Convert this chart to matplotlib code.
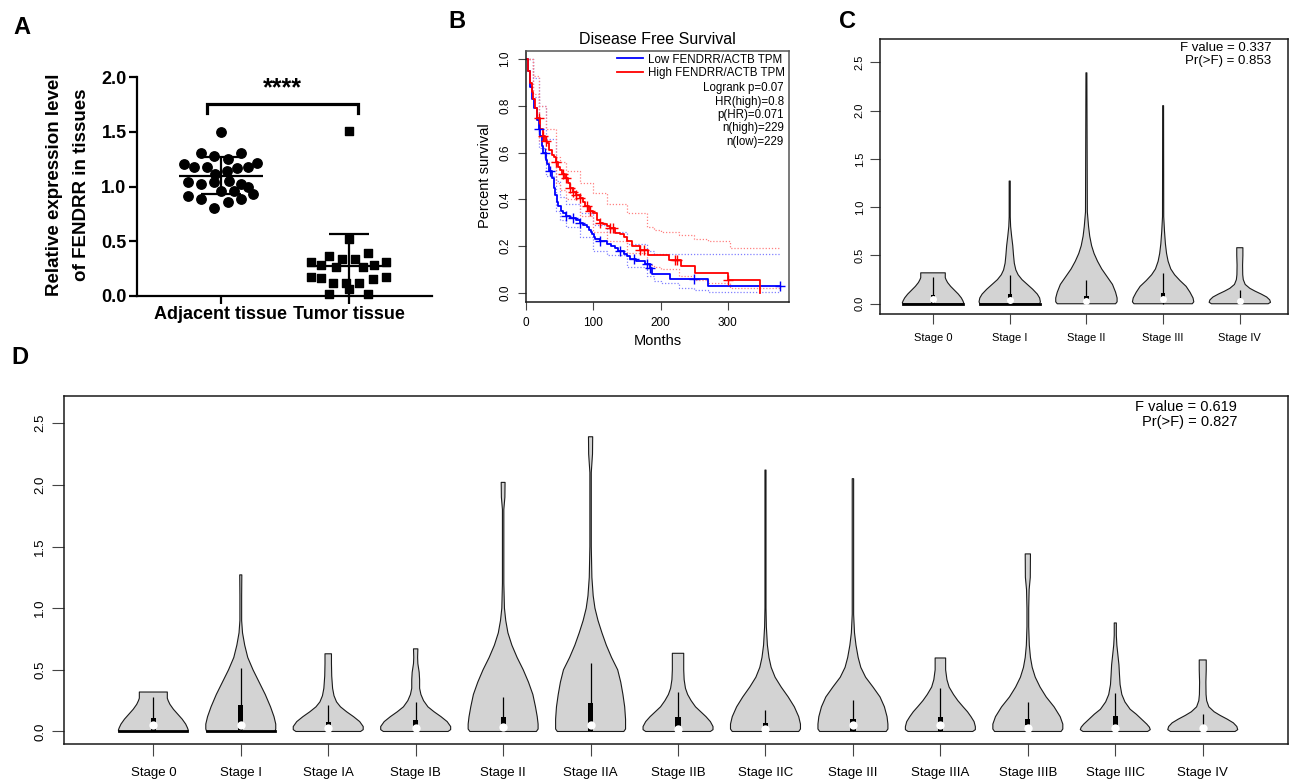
import numpy as np
import matplotlib
matplotlib.use("Agg")
import matplotlib.pyplot as plt
from matplotlib.patches import Rectangle
from matplotlib.lines import Line2D

plt.rcParams["font.family"] = ["Liberation Sans", "DejaVu Sans"]

W, H = 1294, 783

# ---------------- Panel A data ----------------
a_groups = ["Adjacent tissue", "Tumor tissue"]
adj_dx = [0.0, -0.156, -0.052, 0.057, 0.154, -0.289, -0.208, -0.107, 0.052, 0.128,
          0.214, 0.286, -0.044, -0.255, -0.156, -0.052, 0.06, 0.161, 0.005, 0.10,
          0.21, -0.255, 0.255, -0.156, 0.057, 0.154, -0.052]
adj_y = [1.50, 1.305, 1.28, 1.25, 1.305, 1.207, 1.183, 1.183, 1.146, 1.168,
         1.183, 1.213, 1.113, 1.046, 1.024, 1.04, 1.05, 1.02, 0.963, 0.963,
         0.994, 0.918, 0.93, 0.884, 0.863, 0.884, 0.802]
tum_dx = [0.0, 0.0, -0.156, 0.151, -0.052, 0.052, -0.294, -0.216, -0.099, 0.109,
          0.2, 0.292, -0.294, -0.216, -0.125, -0.021, 0.083, 0.188, 0.292, 0.0,
          -0.151, 0.148]
tum_y = [1.512, 0.518, 0.369, 0.39, 0.335, 0.335, 0.314, 0.284, 0.268, 0.268,
         0.284, 0.314, 0.177, 0.162, 0.122, 0.122, 0.122, 0.152, 0.177, 0.061,
         0.018, 0.018]
a_mean = [1.10, 0.27]
a_sd = [0.17, 0.295]

# ---------------- Panel B data ----------------
low_t = [0, 3, 6, 9, 12, 16, 19, 21, 24, 26, 29, 31, 34, 38, 41, 43, 46, 48, 52, 55,
         60, 65, 75, 80, 85, 90, 93, 96, 98, 101, 103, 110, 120, 127, 132, 137, 145,
         150, 154, 164, 177, 184, 187, 214, 271, 377]
low_s = [1.0, 0.95, 0.88, 0.83, 0.79, 0.74, 0.70, 0.67, 0.63, 0.60, 0.57, 0.55, 0.52,
         0.49, 0.45, 0.42, 0.39, 0.37, 0.35, 0.34, 0.33, 0.32, 0.31, 0.30, 0.29, 0.28,
         0.27, 0.26, 0.25, 0.24, 0.23, 0.22, 0.21, 0.20, 0.19, 0.18, 0.167, 0.157,
         0.146, 0.136, 0.124, 0.106, 0.08, 0.06, 0.03, 0.03]
high_t = [0, 3, 6, 9, 11, 14, 17, 21, 25, 28, 31, 34, 38, 41, 44, 47, 50, 54, 58, 62,
          65, 70, 75, 80, 85, 88, 93, 100, 105, 110, 115, 120, 125, 132, 140, 145, 150,
          157, 169, 182, 212, 231, 251, 300, 348]
high_s = [1.0, 0.95, 0.90, 0.86, 0.83, 0.79, 0.75, 0.70, 0.67, 0.65, 0.64, 0.61, 0.59,
          0.58, 0.56, 0.54, 0.525, 0.51, 0.49, 0.47, 0.45, 0.43, 0.42, 0.405, 0.39,
          0.37, 0.35, 0.34, 0.31, 0.30, 0.295, 0.285, 0.275, 0.257, 0.25, 0.24, 0.22,
          0.20, 0.185, 0.16, 0.14, 0.113, 0.084, 0.056, 0.0]
ci_t = [0, 10, 20, 30, 45, 50, 60, 80, 100, 120, 150, 180, 190, 200, 228, 250, 270,
        303, 310, 377]
low_upper = [1.0, 0.92, 0.80, 0.66, 0.48, 0.41, 0.38, 0.34, 0.29, 0.26, 0.21, 0.18,
             0.167, 0.167, 0.167, 0.167, 0.167, 0.167, 0.167, 0.167]
low_lower = [1.0, 0.84, 0.62, 0.50, 0.35, 0.31, 0.28, 0.24, 0.18, 0.16, 0.11, 0.07,
             0.05, 0.04, 0.02, 0.01, 0.005, 0.005, 0.005, 0.005]
high_upper = [1.0, 0.93, 0.80, 0.70, 0.58, 0.56, 0.52, 0.47, 0.425, 0.38, 0.34, 0.28,
              0.27, 0.26, 0.246, 0.23, 0.22, 0.19, 0.19, np.nan]
high_lower = [1.0, 0.85, 0.65, 0.56, 0.47, 0.44, 0.40, 0.33, 0.26, 0.22, 0.17, 0.12,
              0.11, 0.10, 0.07, 0.053, 0.04, 0.02, 0.02, np.nan]
low_cens = [20, 28, 35, 60, 70, 80, 110, 140, 160, 180, 185, 250, 377]
high_cens = [20, 25, 30, 45, 55, 60, 65, 70, 75, 80, 90, 95, 110, 125, 130, 170, 175,
             222, 225, 300]
b_stats = ["Logrank p=0.07", "HR(high)=0.8", "p(HR)=0.071", "n(high)=229", "n(low)=229"]

# ---------------- Panel C data ----------------
c_stages = ["Stage 0", "Stage I", "Stage II", "Stage III", "Stage IV"]
c_prof_y = [
    [0, 0.01, 0.03, 0.06, 0.10, 0.14, 0.18, 0.22, 0.25, 0.27, 0.29, 0.32],
    [0, 0.02, 0.06, 0.10, 0.15, 0.2, 0.25, 0.3, 0.35, 0.42, 0.5, 0.6, 0.7, 0.8, 0.9, 1.27],
    [0, 0.02, 0.06, 0.12, 0.2, 0.28, 0.36, 0.44, 0.52, 0.6, 0.7, 0.8, 0.95, 2.39],
    [0, 0.02, 0.06, 0.12, 0.18, 0.24, 0.3, 0.36, 0.44, 0.52, 0.62, 0.75, 0.9, 2.05],
    [0, 0.015, 0.04, 0.07, 0.1, 0.13, 0.16, 0.2, 0.25, 0.3, 0.4, 0.5, 0.58],
]
c_prof_w = [
    [0.39, 0.40, 0.39, 0.37, 0.33, 0.28, 0.23, 0.19, 0.17, 0.16, 0.16, 0.16],
    [0.39, 0.40, 0.39, 0.36, 0.30, 0.23, 0.16, 0.11, 0.08, 0.06, 0.05, 0.04, 0.025, 0.012, 0.007, 0.007],
    [0.38, 0.40, 0.40, 0.38, 0.34, 0.27, 0.2, 0.145, 0.1, 0.068, 0.043, 0.028, 0.012, 0.006],
    [0.38, 0.40, 0.39, 0.35, 0.30, 0.22, 0.15, 0.1, 0.065, 0.045, 0.03, 0.018, 0.008, 0.006],
    [0.37, 0.40, 0.39, 0.35, 0.28, 0.2, 0.13, 0.07, 0.045, 0.038, 0.036, 0.04, 0.04],
]
c_q1 = [0.0, 0.0, 0.03, 0.02, 0.025]
c_q3 = [0.095, 0.105, 0.085, 0.11, 0.03]
c_med = [0.05, 0.035, 0.025, 0.045, 0.025]
c_upper = [0.28, 0.295, 0.245, 0.315, 0.14]
c_flat = ["Stage 0", "Stage I"]

# ---------------- Panel D data ----------------
d_stages = ["Stage 0", "Stage I", "Stage IA", "Stage IB", "Stage II", "Stage IIA",
            "Stage IIB", "Stage IIC", "Stage III", "Stage IIIA", "Stage IIIB",
            "Stage IIIC", "Stage IV"]
d_prof_y = [
    [0, 0.01, 0.03, 0.06, 0.10, 0.14, 0.18, 0.22, 0.25, 0.27, 0.29, 0.32],
    [0, 0.02, 0.06, 0.12, 0.2, 0.3, 0.4, 0.5, 0.6, 0.7, 0.8, 0.9, 1.1, 1.27],
    [0, 0.015, 0.04, 0.08, 0.12, 0.16, 0.2, 0.24, 0.29, 0.35, 0.45, 0.55, 0.63],
    [0, 0.015, 0.04, 0.08, 0.12, 0.16, 0.2, 0.25, 0.3, 0.35, 0.42, 0.48, 0.55, 0.6, 0.67],
    [0, 0.02, 0.06, 0.12, 0.2, 0.3, 0.4, 0.5, 0.6, 0.7, 0.8, 0.9, 1.0, 1.2, 1.8, 1.9, 2.02],
    [0, 0.02, 0.1, 0.2, 0.3, 0.4, 0.5, 0.6, 0.7, 0.8, 0.9, 1.0, 1.1, 1.25, 1.5, 2.1, 2.25, 2.39],
    [0, 0.015, 0.04, 0.08, 0.12, 0.16, 0.2, 0.25, 0.3, 0.35, 0.42, 0.5, 0.58, 0.634],
    [0, 0.02, 0.06, 0.12, 0.2, 0.28, 0.36, 0.44, 0.52, 0.6, 0.7, 0.85, 1.0, 2.12],
    [0, 0.02, 0.06, 0.12, 0.2, 0.28, 0.36, 0.44, 0.52, 0.6, 0.7, 0.8, 0.95, 2.05],
    [0, 0.015, 0.04, 0.08, 0.12, 0.16, 0.2, 0.25, 0.3, 0.36, 0.42, 0.5, 0.596],
    [0, 0.02, 0.06, 0.12, 0.2, 0.28, 0.36, 0.44, 0.52, 0.6, 0.7, 0.85, 1.0, 1.15, 1.25, 1.44],
    [0, 0.015, 0.035, 0.06, 0.1, 0.14, 0.18, 0.24, 0.3, 0.38, 0.46, 0.54, 0.62, 0.7, 0.78, 0.88],
    [0, 0.015, 0.04, 0.07, 0.1, 0.13, 0.16, 0.2, 0.25, 0.3, 0.4, 0.5, 0.58],
]
d_prof_w = [
    [0.39, 0.40, 0.39, 0.37, 0.33, 0.28, 0.23, 0.19, 0.17, 0.16, 0.16, 0.16],
    [0.39, 0.40, 0.40, 0.38, 0.34, 0.28, 0.21, 0.14, 0.08, 0.045, 0.02, 0.01, 0.01, 0.012],
    [0.37, 0.40, 0.40, 0.36, 0.29, 0.21, 0.14, 0.095, 0.066, 0.05, 0.04, 0.037, 0.037],
    [0.37, 0.40, 0.40, 0.36, 0.29, 0.21, 0.14, 0.09, 0.06, 0.045, 0.045, 0.04, 0.025, 0.022, 0.025],
    [0.38, 0.40, 0.40, 0.39, 0.37, 0.34, 0.29, 0.23, 0.16, 0.10, 0.055, 0.03, 0.015, 0.008, 0.008, 0.02, 0.022],
    [0.38, 0.40, 0.40, 0.39, 0.37, 0.345, 0.31, 0.24, 0.18, 0.13, 0.085, 0.05, 0.03, 0.015, 0.008, 0.008, 0.022, 0.024],
    [0.37, 0.40, 0.40, 0.37, 0.32, 0.26, 0.2, 0.15, 0.11, 0.085, 0.07, 0.065, 0.065, 0.065],
    [0.38, 0.40, 0.40, 0.38, 0.33, 0.26, 0.18, 0.11, 0.065, 0.04, 0.022, 0.01, 0.006, 0.006],
    [0.38, 0.40, 0.40, 0.39, 0.36, 0.31, 0.23, 0.145, 0.09, 0.06, 0.035, 0.018, 0.008, 0.008],
    [0.37, 0.40, 0.40, 0.385, 0.35, 0.31, 0.26, 0.2, 0.15, 0.1, 0.075, 0.06, 0.06],
    [0.38, 0.40, 0.40, 0.37, 0.30, 0.21, 0.14, 0.085, 0.05, 0.03, 0.017, 0.01, 0.01, 0.015, 0.028, 0.03],
    [0.37, 0.40, 0.39, 0.36, 0.30, 0.24, 0.17, 0.11, 0.075, 0.055, 0.048, 0.042, 0.03, 0.018, 0.012, 0.012],
    [0.37, 0.40, 0.39, 0.35, 0.28, 0.2, 0.13, 0.07, 0.045, 0.038, 0.036, 0.04, 0.04],
]
d_q1 = [0.0, 0.01, 0.03, 0.04, 0.02, 0.0, 0.03, 0.03, 0.0, 0.0, 0.05, 0.05, 0.025]
d_q3 = [0.11, 0.215, 0.075, 0.09, 0.12, 0.23, 0.12, 0.065, 0.10, 0.12, 0.10, 0.125, 0.03]
d_med = [0.055, 0.05, 0.03, 0.03, 0.04, 0.05, 0.02, 0.02, 0.05, 0.05, 0.025, 0.025, 0.025]
d_upper = [0.277, 0.515, 0.215, 0.24, 0.28, 0.558, 0.323, 0.174, 0.255, 0.353, 0.24, 0.31, 0.14]
d_flat = ["Stage 0", "Stage I"]


def px_axes(fig, x0, y0, x1, y1):
    return fig.add_axes([x0 / W, 1 - y1 / H, (x1 - x0) / W, (y1 - y0) / H])


def draw_violin(ax, pos, ys, ws, q1, q3, med, upper, flat, box_hw, med_ms):
    ys = np.asarray(ys)
    ws = np.asarray(ws)
    xs = np.concatenate([pos - ws, (pos + ws)[::-1]])
    yy = np.concatenate([ys, ys[::-1]])
    ax.fill(xs, yy, facecolor="#d3d3d3", edgecolor="#1a1a1a", lw=0.8, zorder=2,
            joinstyle="round")
    if flat:
        ax.plot([pos - ws[0], pos + ws[0]], [ys[0], ys[0]], color="black", lw=2, zorder=3)
    ax.vlines(pos, 0, upper, color="black", lw=0.9, zorder=3)
    ax.add_patch(Rectangle((pos - box_hw, q1), 2 * box_hw, q3 - q1,
                           facecolor="black", edgecolor="none", zorder=4))
    ax.plot(pos, med, "o", color="white", ms=med_ms, mec="none", zorder=5)


def r_style(ax, fs_y, pad_y, tick_len):
    for s in ax.spines.values():
        s.set_linewidth(1.1)
        s.set_color("#1a1a1a")
    ax.tick_params(axis="both", length=tick_len, width=0.8, color="#444444")
    ax.tick_params(axis="y", labelsize=fs_y, pad=pad_y)
    for lab in ax.get_yticklabels():
        lab.set_rotation(90)
        lab.set_va("center")


fig = plt.figure(figsize=(W / 100, H / 100), dpi=100)

# =========================
# PANEL A
# =========================
axA = px_axes(fig, 137, 77.3, 432, 296)
xA = [1, 2]
axA.scatter([xA[0] + d for d in adj_dx], adj_y, marker="o", s=46, color="black",
            zorder=3, clip_on=False)
axA.scatter([xA[1] + d for d in tum_dx], tum_y, marker="s", s=36, color="black",
            zorder=3, clip_on=False)
for x, m, sd in zip(xA, a_mean, a_sd):
    axA.hlines(m, x - 0.33, x + 0.33, color="black", lw=1.6, zorder=4)
    axA.vlines(x, m - sd, m + sd, color="black", lw=1.6, zorder=4)
    axA.hlines([m - sd, m + sd], x - 0.155, x + 0.155, color="black", lw=1.6, zorder=4)
axA.plot([0.893, 0.893, 2.07, 2.07], [1.67, 1.76, 1.76, 1.67], color="black", lw=2.3,
         clip_on=False, solid_joinstyle="miter")
axA.text(1.48, 1.90, "****", ha="center", va="center", fontsize=18, fontweight="bold")
axA.set_xlim(0.345, 2.65)
axA.set_ylim(0, 2.0)
axA.set_yticks([0, 0.5, 1.0, 1.5, 2.0])
axA.set_yticklabels(["0.0", "0.5", "1.0", "1.5", "2.0"], fontsize=13, fontweight="bold")
axA.set_xticks(xA)
axA.set_xticklabels(a_groups, fontsize=13, fontweight="bold")
axA.spines["top"].set_visible(False)
axA.spines["right"].set_visible(False)
for s in ["left", "bottom"]:
    axA.spines[s].set_linewidth(1.6)
axA.tick_params(axis="both", length=5.5, width=1.6, pad=2)
fig.text(55 / W, 1 - 185 / H, "Relative expression level", rotation=90, ha="center",
         va="center", fontsize=13.5, fontweight="bold")
fig.text(82 / W, 1 - 185 / H, "of FENDRR in tissues", rotation=90, ha="center",
         va="center", fontsize=13.5, fontweight="bold")

# =========================
# PANEL B
# =========================
axB = px_axes(fig, 526, 51, 789, 301.7)
blue, red = "#0000ff", "#ff0000"
axB.step(ci_t, low_upper, where="post", color="#8080ff", lw=0.9, ls=(0, (1, 1.5)))
axB.step(ci_t, low_lower, where="post", color="#8080ff", lw=0.9, ls=(0, (1, 1.5)))
axB.step(ci_t, high_upper, where="post", color="#ff8080", lw=0.9, ls=(0, (1, 1.5)))
axB.step(ci_t, high_lower, where="post", color="#ff8080", lw=0.9, ls=(0, (1, 1.5)))
axB.step(low_t, low_s, where="post", color=blue, lw=1.3)
axB.step(high_t, high_s, where="post", color=red, lw=1.3)
low_cs = [low_s[np.searchsorted(low_t, t, side="right") - 1] for t in low_cens]
high_cs = [high_s[np.searchsorted(high_t, t, side="right") - 1] for t in high_cens]
axB.plot(low_cens, low_cs, "+", color=blue, ms=7, mew=1)
axB.plot(high_cens, high_cs, "+", color=red, ms=7, mew=1)
axB.set_xlim(0, 391)
axB.set_ylim(-0.0385, 1.035)
axB.set_xticks([0, 100, 200, 300])
axB.set_yticks([0, 0.2, 0.4, 0.6, 0.8, 1.0])
axB.set_yticklabels(["0.0", "0.2", "0.4", "0.6", "0.8", "1.0"])
axB.tick_params(axis="x", labelsize=8.5, pad=5)
r_style(axB, 8.5, 4.5, 6)
for s in ["top", "right"]:
    axB.spines[s].set_color("#555555")
handles = [Line2D([], [], color=blue, lw=1.3), Line2D([], [], color=red, lw=1.3)]
axB.legend(handles, ["Low FENDRR/ACTB TPM", "High FENDRR/ACTB TPM"], loc="upper right",
           bbox_to_anchor=(0.985, 0.99), frameon=False, fontsize=8.3, handlelength=2.3,
           handletextpad=0.4, labelspacing=0.1, borderpad=0, borderaxespad=0)
axB.text(0.98, 0.875, "\n".join(b_stats), transform=axB.transAxes, ha="right",
         va="top", fontsize=8.3, linespacing=1.15)
fig.text(657.5 / W, 1 - 40 / H, "Disease Free Survival", ha="center", va="center",
         fontsize=11.5)
fig.text(485 / W, 1 - 176 / H, "Percent survival", rotation=90, ha="center",
         va="center", fontsize=10.5)
fig.text(657.5 / W, 1 - 341 / H, "Months", ha="center", va="center", fontsize=10.5)

# =========================
# PANEL C
# =========================
axC = px_axes(fig, 880, 39, 1288.3, 314)
for i, st in enumerate(c_stages):
    draw_violin(axC, i + 1, c_prof_y[i], c_prof_w[i], c_q1[i], c_q3[i], c_med[i],
                c_upper[i], st in c_flat, 0.028, 5)
axC.set_xlim(0.309, 5.632)
axC.set_ylim(-0.106, 2.74)
axC.set_xticks(range(1, len(c_stages) + 1))
axC.set_xticklabels(c_stages, fontsize=8)
axC.set_yticks([0, 0.5, 1.0, 1.5, 2.0, 2.5])
axC.set_yticklabels(["0.0", "0.5", "1.0", "1.5", "2.0", "2.5"])
axC.tick_params(axis="x", pad=7)
r_style(axC, 8, 4, 7)
fig.text(1271 / W, 1 - 42 / H, "F value = 0.337\nPr(>F) = 0.853", ha="right",
         va="top", fontsize=9.5, linespacing=1.15)

# =========================
# PANEL D
# =========================
axD = px_axes(fig, 64.3, 395.7, 1288, 744.3)
for i, st in enumerate(d_stages):
    draw_violin(axD, i + 1, d_prof_y[i], d_prof_w[i], d_q1[i], d_q3[i], d_med[i],
                d_upper[i], st in d_flat, 0.03, 6)
axD.set_xlim(-0.018, 13.975)
axD.set_ylim(-0.104, 2.723)
axD.set_xticks(range(1, len(d_stages) + 1))
axD.set_xticklabels(d_stages, fontsize=9.5)
axD.set_yticks([0, 0.5, 1.0, 1.5, 2.0, 2.5])
axD.set_yticklabels(["0.0", "0.5", "1.0", "1.5", "2.0", "2.5"])
axD.tick_params(axis="x", pad=8)
r_style(axD, 9.5, 4.5, 8.5)
fig.text(1237 / W, 1 - 400 / H, "F value = 0.619\nPr(>F) = 0.827", ha="right",
         va="top", fontsize=10.5, linespacing=1.1)

# ---------------- Panel letters ----------------
for letter, x, y in [("A", 22, 27), ("B", 457, 22), ("C", 848, 22), ("D", 20, 357)]:
    fig.text(x / W, 1 - y / H, letter, ha="center", va="center", fontsize=17,
             fontweight="bold")

fig.savefig("out.png", dpi=100)
plt.close(fig)
